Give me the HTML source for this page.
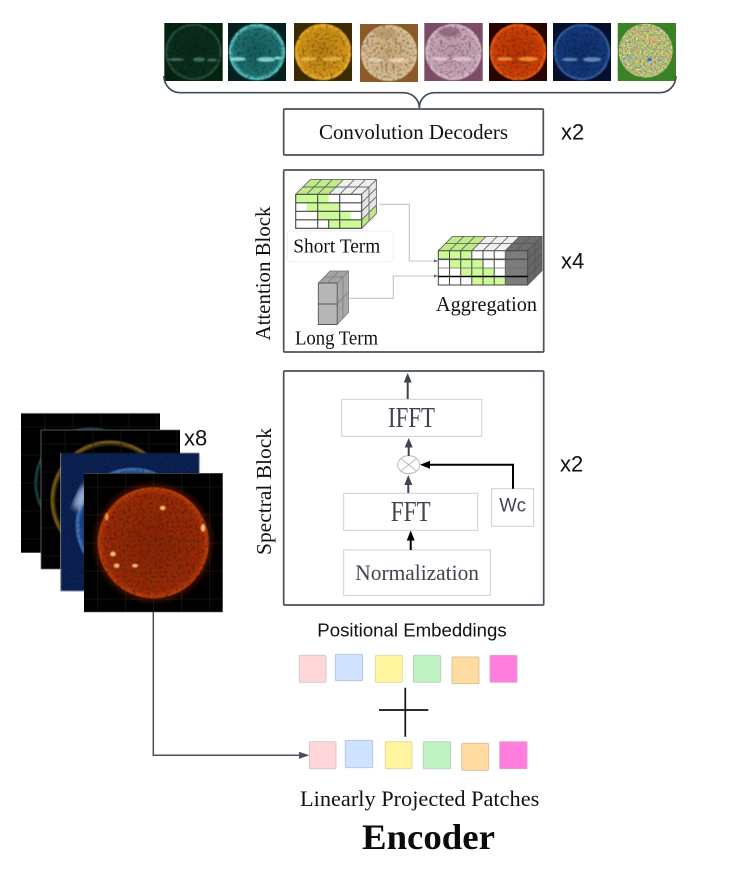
<!DOCTYPE html>
<html><head><meta charset="utf-8"><style>
html,body{margin:0;padding:0;background:#fff}
svg{display:block}
.s{font-family:"Liberation Serif",serif}
.a{font-family:"Liberation Sans",sans-serif}
</style></head><body>
<svg width="747" height="884" viewBox="0 0 747 884" xmlns="http://www.w3.org/2000/svg">
<defs>
<filter id="m" x="-5%" y="-5%" width="110%" height="110%" color-interpolation-filters="sRGB">
<feTurbulence type="fractalNoise" baseFrequency=".42" numOctaves="2" seed="4" result="n"/>
<feColorMatrix in="n" type="matrix" values="1.35 0 0 0 .3 1.35 0 0 0 .3 1.35 0 0 0 .3 0 0 0 0 1" result="g"/>
<feComposite in="SourceGraphic" in2="g" operator="arithmetic" k1="1" result="r"/>
<feGaussianBlur in="r" stdDeviation=".6"/>
</filter>
<filter id="fine" x="-5%" y="-5%" width="110%" height="110%" color-interpolation-filters="sRGB">
<feTurbulence type="fractalNoise" baseFrequency=".7" numOctaves="1" seed="9" result="n"/>
<feColorMatrix in="n" type="matrix" values="1.2 0 0 0 .3 1.2 0 0 0 .3 1.2 0 0 0 .3 0 0 0 0 1" result="g"/>
<feComposite in="SourceGraphic" in2="g" operator="arithmetic" k1="1" result="r"/>
<feGaussianBlur in="r" stdDeviation=".4"/>
</filter>
<filter id="col" x="0" y="0" width="100%" height="100%" color-interpolation-filters="sRGB">
<feTurbulence type="fractalNoise" baseFrequency=".55" numOctaves="1" seed="7" result="n"/>
<feColorMatrix in="n" type="matrix" values="1 0 0 0 .2 0 1 0 0 .22 0 0 1.1 0 -.08 0 0 0 0 1" result="c"/>
<feComposite in="c" in2="SourceAlpha" operator="in"/>
</filter>
<filter id="b1"><feGaussianBlur stdDeviation=".9"/></filter>
<filter id="b2"><feGaussianBlur stdDeviation="1.4"/></filter>
<filter id="b4"><feGaussianBlur stdDeviation="3"/></filter>
<radialGradient id="g1"><stop offset="0" stop-color="#0a2a18"/><stop offset=".88" stop-color="#0c2e1e"/><stop offset=".97" stop-color="#2a6048"/><stop offset="1" stop-color="#0c2a18"/></radialGradient>
<radialGradient id="g2"><stop offset="0" stop-color="#155c5c"/><stop offset=".82" stop-color="#1f7272"/><stop offset=".96" stop-color="#62d4d0"/><stop offset="1" stop-color="#1a5858"/></radialGradient>
<radialGradient id="g3"><stop offset="0" stop-color="#b87e10"/><stop offset=".85" stop-color="#d49618"/><stop offset=".97" stop-color="#f6b832"/><stop offset="1" stop-color="#7c5a10"/></radialGradient>
<radialGradient id="g4"><stop offset="0" stop-color="#cba878"/><stop offset=".88" stop-color="#d8bc92"/><stop offset="1" stop-color="#e4cca4"/></radialGradient>
<radialGradient id="g5"><stop offset="0" stop-color="#bd95a9"/><stop offset=".88" stop-color="#cba8b8"/><stop offset="1" stop-color="#e0c8d2"/></radialGradient>
<radialGradient id="g6"><stop offset="0" stop-color="#b83206"/><stop offset=".88" stop-color="#cf4208"/><stop offset=".97" stop-color="#f56a12"/><stop offset="1" stop-color="#7a1c04"/></radialGradient>
<radialGradient id="g7"><stop offset="0" stop-color="#10306e"/><stop offset=".88" stop-color="#14397c"/><stop offset=".97" stop-color="#3f6cb0"/><stop offset="1" stop-color="#0c2258"/></radialGradient>
<radialGradient id="bg4"><stop offset=".7" stop-color="#c89a5c"/><stop offset="1" stop-color="#8a5a28"/></radialGradient>
<radialGradient id="bg5"><stop offset=".7" stop-color="#d8b8c8"/><stop offset="1" stop-color="#7c4c66"/></radialGradient>
<radialGradient id="big"><stop offset="0" stop-color="#8a2405"/><stop offset=".88" stop-color="#992a06"/><stop offset=".98" stop-color="#bc3c0a"/><stop offset="1" stop-color="#c84c0c"/></radialGradient>
<radialGradient id="ringC"><stop offset=".65" stop-color="#0a2050"/><stop offset=".9" stop-color="#1c4688"/><stop offset=".97" stop-color="#4a7cc0"/><stop offset="1" stop-color="#0b2358"/></radialGradient>
<radialGradient id="ringB"><stop offset=".9" stop-color="#000"/><stop offset=".97" stop-color="#8a6c18"/><stop offset="1" stop-color="#000"/></radialGradient>
<radialGradient id="ringA"><stop offset=".92" stop-color="#000"/><stop offset=".98" stop-color="#1f5f5e"/><stop offset="1" stop-color="#000"/></radialGradient>
</defs>

<!-- top tiles -->
<rect x="164.3" y="23" width="58.4" height="58" fill="#05210f"/>
<circle cx="193.5" cy="52" r="28.5" fill="url(#g1)" filter="url(#m)"/>
<g fill="#6ea88e" opacity=".55" filter="url(#b1)"><ellipse cx="176" cy="59.5" rx="8" ry="1.5"/><ellipse cx="199" cy="59.5" rx="6" ry="2.2"/><ellipse cx="212" cy="60" rx="5" ry="1.5"/></g>
<rect x="228" y="23" width="58" height="58" fill="#04201f"/>
<circle cx="257" cy="52" r="28.5" fill="url(#g2)" filter="url(#m)"/>
<g fill="#b0fcfc" opacity=".7" filter="url(#b1)"><ellipse cx="238" cy="59" rx="8" ry="2"/><ellipse cx="266" cy="59.5" rx="9" ry="2.4"/><ellipse cx="278" cy="58" rx="4" ry="1.5"/></g>
<rect x="294" y="23" width="58" height="58" fill="#3c2a02"/>
<circle cx="323" cy="52" r="28.5" fill="url(#g3)" filter="url(#m)"/>
<g fill="#ffd768" opacity=".55" filter="url(#b1)"><ellipse cx="308" cy="59" rx="9" ry="2"/><ellipse cx="332" cy="59" rx="10" ry="2.2"/></g>
<rect x="360" y="24" width="58" height="58" fill="url(#bg4)"/>
<circle cx="389" cy="53" r="28" fill="url(#g4)" filter="url(#m)"/>
<ellipse cx="385" cy="33" rx="12" ry="5" fill="#b08a58" opacity=".6" filter="url(#b2)"/>
<g fill="#fff4dc" opacity=".55" filter="url(#b1)"><ellipse cx="375" cy="60" rx="8" ry="1.8"/><ellipse cx="398" cy="60" rx="10" ry="2.2"/></g>
<rect x="424.3" y="23" width="58.4" height="58" fill="url(#bg5)"/>
<circle cx="453.5" cy="52" r="28" fill="url(#g5)" filter="url(#m)"/>
<ellipse cx="449" cy="32" rx="11" ry="5" fill="#80506c" opacity=".65" filter="url(#b2)"/>
<g fill="#f8ecf2" opacity=".55" filter="url(#b1)"><ellipse cx="440" cy="59" rx="8" ry="1.8"/><ellipse cx="462" cy="59" rx="10" ry="2.2"/></g>
<rect x="489" y="23" width="58" height="58" fill="#2a0400"/>
<circle cx="518" cy="52" r="28.5" fill="url(#g6)" filter="url(#m)"/>
<g fill="#ffb040" opacity=".7" filter="url(#b1)"><ellipse cx="505" cy="59" rx="8" ry="1.8"/><ellipse cx="528" cy="59" rx="10" ry="2.2"/></g>
<rect x="553" y="23" width="58" height="58" fill="#04102e"/>
<circle cx="582" cy="52" r="28.5" fill="url(#g7)" filter="url(#m)"/>
<g fill="#a8ccf0" opacity=".55" filter="url(#b1)"><ellipse cx="570" cy="59.5" rx="8" ry="1.8"/><ellipse cx="592" cy="59.5" rx="9" ry="2.4"/></g>
<rect x="617.7" y="23" width="58.3" height="58" fill="#3a8228"/>
<circle cx="645.7" cy="50.7" r="27" fill="#c0c070" filter="url(#col)"/>
<ellipse cx="649.5" cy="59.5" rx="2.5" ry="1.6" fill="#2a50f0" filter="url(#b1)"/>
<ellipse cx="630" cy="58" rx="3.5" ry="2.5" fill="#8ca0d8" opacity=".6" filter="url(#b1)"/>
<ellipse cx="660" cy="60" rx="2.5" ry="1.5" fill="#7080e0" opacity=".6" filter="url(#b1)"/>
<ellipse cx="652" cy="40" rx="6" ry="2.5" fill="#e8a860" opacity=".5" filter="url(#b1)"/>

<!-- brace -->
<path d="M163.8 76C164.5 86 171 92.7 181 92.7H403C412 92.7 419.3 99 419.3 108C419.3 99 426 92.7 435 92.7H659C669 92.7 675.5 86 676 76" fill="none" stroke="#454c58" stroke-width="1.7"/>

<!-- decoder box -->
<rect x="283.7" y="109" width="259.6" height="46" fill="#fff" stroke="#4a505c" stroke-width="1.7" rx="1"/>
<text class="s" x="319" y="139" font-size="21" textLength="189" lengthAdjust="spacingAndGlyphs" fill="#111">Convolution Decoders</text>
<text class="a" x="561" y="139.5" font-size="22" fill="#111">x2</text>

<!-- attention box -->
<rect x="283.7" y="170" width="260" height="182" fill="#fff" stroke="#4a505c" stroke-width="1.7" rx="1"/>
<text class="s" transform="translate(270,340.5) rotate(-90)" font-size="21" textLength="134" lengthAdjust="spacingAndGlyphs" fill="#111">Attention Block</text>
<text class="a" x="561" y="268.5" font-size="22" fill="#111">x4</text>

<!-- connectors -->
<path d="M379.3 204.3H409.3V261H436" fill="none" stroke="#c4c4c4" stroke-width="1.1"/>
<path d="M349.3 298.3H393.3V276H436" fill="none" stroke="#c4c4c4" stroke-width="1.1"/>
<path d="M434 259.5L438.3 261L434 262.5Z M434 274.5L438.3 276L434 277.5Z" fill="#666"/>

<!-- short term cube -->
<rect x="295.7" y="194.3" width="66" height="34" fill="#fff"/>
<path d="M295.7 194.3h33v8.5h-33z M306.7 202.8h33v8.5h-33z M317.7 211.3h33v8.5h-33z M328.7 219.8h33v8.5h-33z" fill="#ccfb98"/>
<path d="M295.7 194.3H328.7L343.4 179.6H310.4Z" fill="#c0ec88"/>
<path d="M328.7 194.3H361.7L376.4 179.6H343.4Z" fill="#f0f0f0"/>
<path d="M361.7 194.3L376.4 179.6V213.6L361.7 228.3Z" fill="#e6e6e6"/>
<path d="M361.7 219.8L376.4 205.1V213.6L361.7 228.3Z" fill="#bfe884"/>
<path d="M295.7 194.3H361.7V228.3H295.7Z M295.7 202.8H361.7 M295.7 211.3H361.7 M295.7 219.8H361.7 M317.7 194.3V228.3 M339.7 194.3V228.3 M328.7 219.8V228.3" fill="none" stroke="#444" stroke-width="1.1"/>
<path d="M295.7 194.3L310.4 179.6H376.4V213.6L361.7 228.3 M306.7 194.3L321.4 179.6 M317.7 194.3L332.4 179.6 M328.7 194.3L343.4 179.6 M339.7 194.3L354.4 179.6 M350.7 194.3L365.4 179.6 M361.7 194.3L376.4 179.6 M303 187H369 M361.7 202.8L376.4 188.1 M361.7 211.3L376.4 196.6 M361.7 219.8L376.4 205.1 M369 187V221" fill="none" stroke="#666" stroke-width=".9"/>

<!-- short term label -->
<rect x="287.3" y="231" width="106" height="30.7" rx="3" fill="#fff" stroke="#eeeeee" stroke-width="1"/>
<text class="s" x="293.3" y="252.5" font-size="20" textLength="87" lengthAdjust="spacingAndGlyphs" fill="#111">Short Term</text>

<!-- long term cube -->
<rect x="318.3" y="283" width="18.9" height="41.5" fill="#b6b6b6"/>
<path d="M318.3 283L330 271H348.5L337.2 283Z" fill="#a4a4a4"/>
<path d="M337.2 283L348.5 271V312.5L337.2 324.5Z" fill="#a8a8a8"/>
<path d="M318.3 283H337.2V324.5H318.3Z M318.3 304H337.2" fill="none" stroke="#555" stroke-width=".9"/>
<path d="M337.2 283L348.5 271V312.5L337.2 324.5 M337.2 304L348.5 292 M343 277V318 M324 277H342.5 M327.5 283L339 271" fill="none" stroke="#7c7c7c" stroke-width=".8"/>
<path d="M318.3 283L330 271H348.5" fill="none" stroke="#777" stroke-width=".8"/>
<text class="s" x="295" y="344.5" font-size="20" textLength="83" lengthAdjust="spacingAndGlyphs" fill="#111">Long Term</text>

<!-- aggregation cube -->
<rect x="438.3" y="250.7" width="89.4" height="34.3" fill="#fff"/>
<path d="M438.3 250.7h33.5v8.6h-33.5z M449.5 259.3h33.5v8.7h-33.5z M460.7 268h33.5v8.5h-33.5z M471.8 276.5h33.5v8.5h-33.5z" fill="#ccfb98"/>
<rect x="505.3" y="250.7" width="22.4" height="34.3" fill="#7c7c7c"/>
<path d="M438.3 250.7H471.8L486.1 236.4H452.6Z" fill="#c0ec88"/>
<path d="M471.8 250.7H505.3L519.6 236.4H486.1Z" fill="#f0f0f0"/>
<path d="M505.3 250.7H527.7L542 236.4H519.6Z" fill="#6e6e6e"/>
<path d="M527.7 250.7L542 236.4V270.7L527.7 285Z" fill="#666"/>
<path d="M438.3 250.7H527.7V285H438.3Z M449.5 250.7V285 M460.7 250.7V285 M471.8 250.7V285 M483 250.7V285 M494.2 250.7V285" fill="none" stroke="#444" stroke-width="1"/>
<path d="M505.3 250.7V285" stroke="#666" stroke-width="1"/>
<path d="M438.3 250.7L452.6 236.4H542V270.7L527.7 285 M449.5 250.7L463.8 236.4 M460.7 250.7L475 236.4 M471.8 250.7L486.1 236.4 M483 250.7L497.3 236.4 M494.2 250.7L508.5 236.4 M505.3 250.7L519.6 236.4 M516.5 250.7L530.8 236.4 M527.7 250.7L542 236.4 M445.5 243.5H534.8 M527.7 259.3L542 245 M527.7 268L542 253.7 M527.7 276.5L542 262.2 M534.8 243.5V277.8" fill="none" stroke="#555" stroke-width=".8"/>
<path d="M438.3 259.3H527.7" stroke="#555" stroke-width="1.7"/>
<path d="M438.3 268H527.7" stroke="#666" stroke-width=".8"/>
<path d="M438.3 276.5H527.7" stroke="#000" stroke-width="1.6"/>
<text class="s" x="436" y="311" font-size="21" textLength="101" lengthAdjust="spacingAndGlyphs" fill="#111">Aggregation</text>

<!-- spectral box -->
<rect x="283.7" y="371" width="260" height="234" fill="#fff" stroke="#4a505c" stroke-width="1.7" rx="1"/>
<text class="s" transform="translate(271,555) rotate(-90)" font-size="21" textLength="127" lengthAdjust="spacingAndGlyphs" fill="#111">Spectral  Block</text>
<text class="a" x="560" y="471.5" font-size="22" fill="#111">x2</text>

<rect x="341.7" y="399.3" width="140" height="37" fill="#fff" stroke="#cfcfcf"/>
<text class="s" x="388" y="427" font-size="28" textLength="47" lengthAdjust="spacingAndGlyphs" fill="#3e4550">IFFT</text>
<ellipse cx="408.7" cy="464.7" rx="11" ry="9" fill="#fff" stroke="#b8b8b8"/>
<path d="M401 458.5L416.5 471M416.5 458.5L401 471" stroke="#b8b8b8" stroke-width=".9"/>
<rect x="343.7" y="493.3" width="134" height="37" fill="#fff" stroke="#cfcfcf"/>
<text class="s" x="390.7" y="521" font-size="28" textLength="40" lengthAdjust="spacingAndGlyphs" fill="#3e4550">FFT</text>
<rect x="491.7" y="488.7" width="42" height="37.6" fill="#fff" stroke="#cfcfcf"/>
<text class="a" x="499.3" y="511.5" font-size="19" textLength="26.7" lengthAdjust="spacingAndGlyphs" fill="#3e4550">Wc</text>
<rect x="343.7" y="550" width="146.6" height="45.3" fill="#fff" stroke="#cfcfcf"/>
<text class="s" x="355.3" y="580" font-size="22" textLength="123.7" lengthAdjust="spacingAndGlyphs" fill="#3e4550">Normalization</text>

<!-- arrows -->
<path d="M407.7 399V381M408.7 456V446M408.3 493V484" stroke="#3e4550" stroke-width="2" fill="none"/>
<path d="M407.7 373L403.7 382.5H411.7Z M408.7 438L404.7 447.5H412.7Z M408.3 475L404.3 485H412.3Z" fill="#3e4550"/>
<path d="M410.7 550V539" stroke="#000" stroke-width="2"/>
<path d="M410.7 530.5L406.7 540.5H414.7Z" fill="#000"/>
<path d="M513 488.7V464.7H429" fill="none" stroke="#000" stroke-width="2"/>
<path d="M420 464.7L430 460.7V468.7Z" fill="#000"/>

<!-- image stack -->
<rect x="21" y="413.3" width="139" height="139.4" fill="#000"/>
<circle cx="90" cy="483" r="56" fill="url(#ringA)" filter="url(#fine)"/>
<path d="M45 413.3V552.7M73 413.3V552.7M101 413.3V552.7M129 413.3V552.7M157 413.3V552.7M21 427H160M21 455H160M21 483H160M21 511H160M21 539H160" stroke="#1e1e1e" stroke-width=".6"/>
<path d="M21 413.3H160" stroke="#8a8f98" stroke-width=".8"/>
<rect x="41" y="430" width="139" height="139" fill="#000"/>
<circle cx="110" cy="500" r="60" fill="url(#ringB)" filter="url(#b1)"/>
<path d="M65 430V569M93 430V569M121 430V569M149 430V569M177 430V569M41 444H180M41 472H180M41 500H180M41 528H180M41 556H180" stroke="#1e1e1e" stroke-width=".6"/>
<path d="M41 430H180M41 430V569H60" stroke="#6a6f78" stroke-width=".8" fill="none"/>
<rect x="60.7" y="453" width="138.6" height="138" fill="#0b2358" filter="url(#fine)"/>
<circle cx="133" cy="525" r="58" fill="url(#ringC)" filter="url(#m)"/>
<ellipse cx="81" cy="497" rx="5" ry="14" fill="#cfe4ff" opacity=".75" filter="url(#b4)" transform="rotate(25 81 497)"/>
<path d="M60.7 453V591H84" stroke="#8a8f98" stroke-width=".8" fill="none"/>
<rect x="84" y="473.3" width="138.7" height="138.7" fill="#000"/>
<circle cx="153.3" cy="542.7" r="59" fill="#7a1a02" opacity=".5" filter="url(#b4)"/>
<circle cx="153.3" cy="542.7" r="55.5" fill="url(#big)" filter="url(#m)"/>
<g fill="#ffc070" filter="url(#b1)">
<ellipse cx="162.7" cy="508" rx="2.8" ry="2.2"/>
<ellipse cx="113" cy="554" rx="2.8" ry="2.4"/>
<ellipse cx="116.7" cy="565.7" rx="2.8" ry="2.2"/>
<ellipse cx="135" cy="565.7" rx="3" ry="1.8"/>
<ellipse cx="203" cy="528" rx="2.2" ry="3.8"/>
<ellipse cx="106.7" cy="516.7" rx="1.7" ry="3.8" fill="#ff9a40"/>
</g>
<path d="M97.3 473.3V612M125.3 473.3V612M153.3 473.3V612M181.3 473.3V612M209.3 473.3V612M84 487H222.7M84 515H222.7M84 543H222.7M84 571H222.7M84 599H222.7" stroke="#5a4a40" stroke-width=".5" opacity=".45"/>
<path d="M84 473.3H222.7M84 612H222.7" stroke="#5a5f68" stroke-width=".6"/>
<text class="a" x="184" y="445.5" font-size="22" fill="#111">x8</text>

<path d="M153.3 612V755.3H300" fill="none" stroke="#4a505c" stroke-width="1.5"/>
<path d="M309.3 755.3L299 751.7V758.9Z" fill="#4a505c"/>

<!-- embeddings -->
<text class="a" x="317.3" y="636.5" font-size="18.5" textLength="189.4" lengthAdjust="spacingAndGlyphs" fill="#111">Positional Embeddings</text>
<g stroke-width=".9">
<rect x="299.3" y="655.3" width="26.7" height="27" rx="1" fill="#ffd6d9" stroke="#d8c4c6"/>
<rect x="335.3" y="654.3" width="27.4" height="26.4" rx="1.5" fill="#cfe2ff" stroke="#b4c4d8"/>
<rect x="375.3" y="655.3" width="27" height="27" rx="1.5" fill="#fff59e" stroke="#dcd8a4"/>
<rect x="413.3" y="655.3" width="27.4" height="27" rx="1.5" fill="#c0f2c4" stroke="#b8d4ba"/>
<rect x="452" y="657" width="27" height="26.7" rx="1" fill="#ffdba1" stroke="#d8c098"/>
<rect x="490" y="655.3" width="27" height="27" rx="1" fill="#ff7edd" stroke="#e0a0cc"/>
<rect x="309.3" y="741.7" width="26.7" height="27" rx="1" fill="#ffd6d9" stroke="#d8c4c6"/>
<rect x="345.3" y="740.3" width="27.4" height="27.4" rx="1.5" fill="#cfe2ff" stroke="#b4c4d8"/>
<rect x="385.3" y="741.7" width="26.7" height="27" rx="1" fill="#fff59e" stroke="#dcd8a4"/>
<rect x="423.3" y="741.7" width="27.4" height="27" rx="1" fill="#c0f2c4" stroke="#b8d4ba"/>
<rect x="461.7" y="743.3" width="27" height="27" rx="1.5" fill="#ffdba1" stroke="#d8c098"/>
<rect x="499.7" y="741.7" width="27.3" height="27" rx="1" fill="#ff7edd" stroke="#e0a0cc"/>
</g>
<path d="M379 710H428.3M405.3 687.7V736.7" stroke="#111" stroke-width="1.7" fill="none"/>
<text class="s" x="300" y="806" font-size="22" textLength="239.3" lengthAdjust="spacingAndGlyphs" fill="#111">Linearly Projected Patches</text>
<text class="s" x="362" y="849" font-size="36" font-weight="bold" textLength="133" lengthAdjust="spacingAndGlyphs" fill="#0a0a0a">Encoder</text>
</svg>
</body></html>
